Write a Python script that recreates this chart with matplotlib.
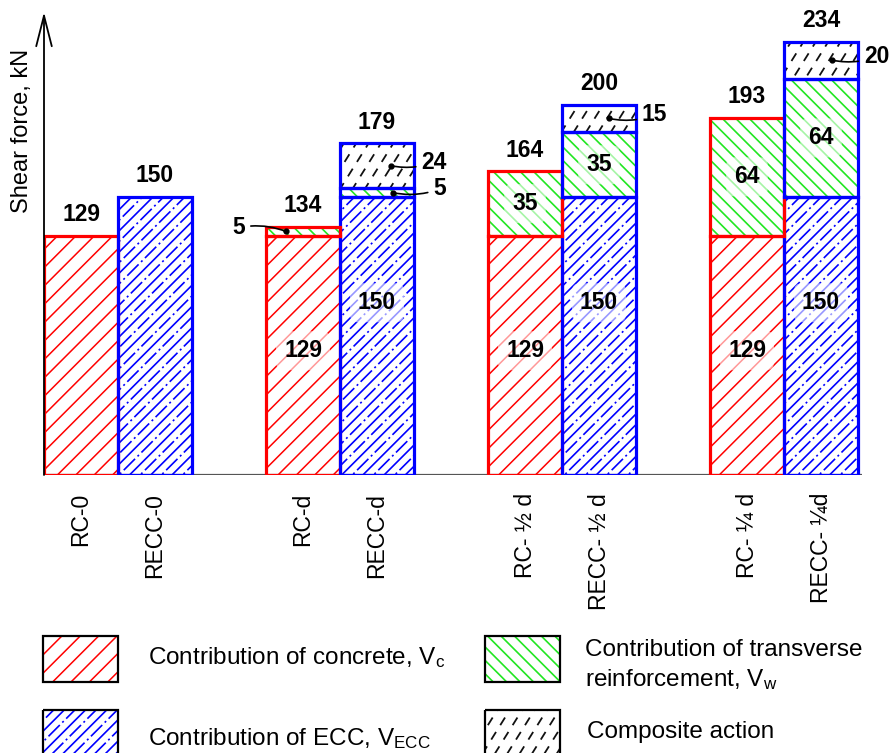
"""Shear force contributions of RC and RECC beams (stacked hatched bars)."""
import matplotlib
matplotlib.use('Agg')
import matplotlib.pyplot as plt
import numpy as np
from matplotlib.collections import LineCollection
from matplotlib.patches import Rectangle
from matplotlib.transforms import IdentityTransform

plt.rcParams.update({
    'font.family': ['Liberation Sans', 'DejaVu Sans'],
    'mathtext.default': 'regular',
    'lines.scale_dashes': False,
})

# --- data (kN) ---
specimens = ['RC-0', 'RECC-0', 'RC-d', 'RECC-d',
             'RC- ½ d', 'RECC- ½ d', 'RC- ¼ d', 'RECC- ¼d']
v_concrete = np.array([129, 0, 129, 0, 129, 0, 129, 0])
v_ecc = np.array([0, 150, 0, 150, 0, 150, 0, 150])
v_trans = np.array([0, 0, 5, 5, 35, 35, 64, 64])
v_comp = np.array([0, 0, 0, 24, 0, 15, 0, 20])

RED = '#ff0000'
BLUE = '#0000ff'
GREEN = '#22e622'
BLACK = '#111111'

fig = plt.figure(figsize=(8.93, 7.53), dpi=100)
PT = 72 / fig.dpi   # points per pixel

# hatch styles, sizes in pixels
PAT = {
    'concrete': dict(color=RED, angle=45, step=13.0, lw=1.1),
    'ecc': dict(color=BLUE, angle=45, step=7.5, lw=1.2, alt=(16, 3.5, 2, 3.5)),
    'trans': dict(color=GREEN, angle=135, step=9.5, lw=1.2),
    'comp': dict(color=BLACK, angle=58, step=10.5, lw=1.3, dash=(9, 8)),
}


def hatch(ax, patch, color, angle, step, lw, dash=None, alt=None):
    """Fill a patch with straight (optionally dashed) hatch lines, in pixel space."""
    bb = patch.get_window_extent()
    th = np.deg2rad(angle)
    d = np.array([np.cos(th), np.sin(th)])
    n = np.array([-np.sin(th), np.cos(th)])
    cx = np.array([bb.x0, bb.x1, bb.x0, bb.x1])
    cy = np.array([bb.y0, bb.y0, bb.y1, bb.y1])
    cn = cx * n[0] + cy * n[1]
    cd = cx * d[0] + cy * d[1]
    segs, styles = [], []
    for k in range(int(np.floor(cn.min() / step)), int(np.ceil(cn.max() / step)) + 1):
        c = k * step
        pat = alt if (alt is not None and k % 2) else dash
        t0, t1 = cd.min() - 3, cd.max() + 3
        if pat is not None:
            period = sum(pat)
            ph = -c * n[1] / d[1]
            t0 = ph + np.floor((cd.min() - ph) / period) * period
        segs.append([c * n + t0 * d, c * n + t1 * d])
        styles.append('solid' if pat is None else (0, tuple(v * PT for v in pat)))
    lc = LineCollection(segs, colors=color, linewidths=lw, linestyles=styles,
                        transform=IdentityTransform(), zorder=2)
    ax.add_collection(lc, autolim=False)
    lc.set_clip_path(patch)   # after add_collection, which resets the clip to the axes


# --- main axes ---
ax = fig.add_axes([44 / 893, (753 - 475) / 753, (893 - 44) / 893, (475 - 12) / 753])
ax.set_xlim(0, (893 - 44) / 74)
ax.set_ylim(0, 463 / 1.852)
for s in ax.spines.values():
    s.set_visible(False)
ax.set_yticks([])

idx = np.arange(len(specimens))
x = (idx // 2) * 3 + (idx % 2) + 0.5
edge = np.array([RED if i % 2 == 0 else BLUE for i in idx])

b_trans = v_concrete + v_ecc
b_comp = b_trans + v_trans
total = b_comp + v_comp


def stack(vals, bottom, key):
    m = vals > 0
    bars = ax.bar(x[m], vals[m], bottom=bottom[m], width=1.0, facecolor='none',
                  edgecolor=list(edge[m]), linewidth=2.3, zorder=3)
    for p in bars:
        hatch(ax, p, **PAT[key])


stack(v_concrete, np.zeros(8), 'concrete')
stack(v_ecc, np.zeros(8), 'ecc')
stack(v_trans, b_trans, 'trans')
stack(v_comp, b_comp, 'comp')

ax.hlines(0, 0, x[-1] + 0.56, color='#555555', lw=1.6, zorder=2.5)
ax.annotate('', xy=(0, 1), xytext=(0, 0), xycoords='axes fraction',
            arrowprops=dict(arrowstyle='->,head_length=1.1,head_width=0.28',
                            mutation_scale=20, lw=1.3, color='black',
                            shrinkA=0, shrinkB=0), zorder=4)

ax.set_xticks(x)
ax.set_xticklabels(specimens, rotation=90, fontsize=16.5, va='top')
ax.tick_params(axis='x', length=0, pad=13)

# totals above bars
for xi, t in zip(x, total):
    ax.annotate(f'{t}', xy=(xi, t), xytext=(0, 7), textcoords='offset points',
                ha='center', va='bottom', fontsize=16.5, fontweight='bold',
                annotation_clip=False)

# values written inside stacked bars
glow = dict(boxstyle='round,pad=0.35', fc='white', ec='none', alpha=0.6)
base = v_concrete + v_ecc
for i in idx[v_trans > 0]:
    frac = 0.52 if v_concrete[i] > 0 else 0.62
    ax.text(x[i], base[i] * frac, f'{base[i]}', ha='center', va='center',
            fontsize=16.5, fontweight='bold', bbox=glow, zorder=5)
    if v_trans[i] >= 20:
        ax.text(x[i], b_trans[i] + v_trans[i] / 2, f'{v_trans[i]}', ha='center',
                va='center', fontsize=16.5, fontweight='bold', bbox=glow, zorder=5)

# leader labels for thin segments: (bar, segment, dot dx, text dx)
leaders = [(2, 'trans', -0.23, -0.78), (3, 'comp', 0.19, 0.6),
           (3, 'trans', 0.21, 0.76), (5, 'comp', 0.14, 0.58), (7, 'comp', 0.15, 0.58)]
seg_val = {'trans': v_trans, 'comp': v_comp}
seg_bot = {'trans': b_trans, 'comp': b_comp}
for i, seg, ddx, tdx in leaders:
    v = seg_val[seg][i]
    yc = seg_bot[seg][i] + v / 2
    ax.annotate(f'{v}', xy=(x[i] + ddx, yc), xytext=(x[i] + tdx, yc + 2),
                ha='right' if tdx < 0 else 'left', va='center', fontsize=16.5,
                fontweight='bold', annotation_clip=False, zorder=6,
                arrowprops=dict(arrowstyle='-', color='black', lw=1.2, shrinkA=2,
                                shrinkB=0, connectionstyle='arc3,rad=-0.15'))
    ax.plot(x[i] + ddx, yc, 'o', color='black', ms=3.5, zorder=6)

fig.text(22 / 893, 1 - 131 / 753, 'Shear force, kN', rotation=90,
         ha='center', va='center', fontsize=17)

# --- legend, laid out in pixel units ---
lax = fig.add_axes([0, 0, 1, 1])
lax.set_xlim(0, 893)
lax.set_ylim(753, 0)
lax.axis('off')
swatches = [('concrete', 43, 636), ('trans', 485, 636), ('ecc', 43, 710), ('comp', 485, 710)]
for key, x0, y0 in swatches:
    r = Rectangle((x0, y0), 75, 46 if y0 < 700 else 55, fill=False, ec='black',
                  lw=1.6, zorder=3)
    lax.add_patch(r)
    hatch(lax, r, **PAT[key])

lax.text(148, 664, 'Contribution of concrete, V$_{c}$', fontsize=17.5, va='baseline')
lax.text(148, 745, 'Contribution of ECC, V$_{ECC}$', fontsize=17.5, va='baseline')
lax.text(585, 656, 'Contribution of transverse', fontsize=17.5, va='baseline')
lax.text(585, 686, 'reinforcement, V$_{w}$', fontsize=17.5, va='baseline')
lax.text(587, 738, 'Composite action', fontsize=17.5, va='baseline')

fig.savefig('out.png', dpi=100)
